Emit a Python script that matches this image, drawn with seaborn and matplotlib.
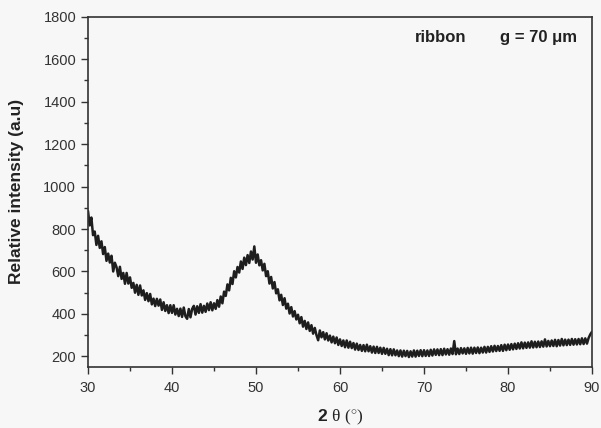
import numpy as np
import pandas as pd
import matplotlib
matplotlib.use("Agg")
import matplotlib.pyplot as plt
import seaborn as sns

# ---- data, 2-theta grid of 0.2 deg ----
two_theta = np.round(np.arange(30.0, 90.0001, 0.2), 1)

intensity = [
    885, 817, 854, 771, 788,  725, 768, 711, 742, 682,   # 30-31.8
    715, 650, 684, 642, 674,  600, 641, 620, 578, 622,   # 32-33.8
    565, 593, 542, 593, 543,  572, 523, 546, 500, 537,   # 34-35.8
    490, 534, 487, 511, 466,  498, 460, 494, 445, 472,   # 36-37.8
    437, 471, 439, 468, 419,  455, 414, 441, 404, 441,   # 38-39.8
    405, 441, 397, 424, 390,  425, 386, 430, 389, 377,   # 40-41.8
    423, 384, 424, 438, 397,  436, 405, 446, 406, 438,   # 42-43.8
    410, 449, 418, 455, 417,  450, 424, 465, 434, 482,   # 44-45.8
    450, 505, 485, 539, 511,  570, 541, 601, 572, 621,   # 46-47.8
    595, 647, 612, 665, 630,  677, 640, 694, 656, 718,   # 48-49.8
    641, 680, 629, 653, 605,  636, 578, 601, 543, 574,   # 50-51.8
    520, 550, 497, 516, 464,  490, 442, 474, 425, 448,   # 52-53.8
    402, 432, 388, 413, 374,  396, 356, 385, 340, 367,   # 54-55.8
    329, 360, 320, 347, 307,  334, 300, 276, 322, 290,   # 56-57.8
    314, 280, 309, 275, 298,  266, 293, 262, 289, 254,   # 58-59.8
    280, 249, 275, 243, 275,  241, 269, 239, 263, 232,   # 60-61.8
    260, 230, 254, 226, 253,  224, 255, 224, 248, 218,   # 62-63.8
    246, 216, 245, 216, 241,  212, 240, 212, 236, 206,   # 64-65.8
    234, 205, 233, 205, 228,  201, 228, 199, 227, 201,   # 66-67.8
    226, 197, 224, 199, 228,  199, 227, 202, 229, 201,   # 68-69.8
    229, 202, 228, 202, 231,  204, 233, 207, 233, 206,   # 70-71.8
    234, 206, 236, 209, 234,  208, 237, 211, 272, 210,   # 72-73.8
    237, 211, 239, 214, 238,  212, 240, 214, 241, 213,   # 74-75.8
    241, 216, 242, 215, 241,  218, 245, 218, 245, 221,   # 76-77.8
    248, 223, 250, 225, 249,  226, 253, 226, 255, 229,   # 78-79.8
    256, 231, 258, 233, 260,  235, 262, 237, 266, 238,   # 80-81.8
    265, 240, 266, 241, 271,  242, 269, 243, 270, 244,   # 82-83.8
    271, 246, 280, 247, 273,  248, 275, 249, 278, 248,   # 84-85.8
    277, 251, 282, 252, 279,  253, 279, 254, 282, 255,   # 86-87.8
    281, 256, 282, 257, 285,  258, 285, 260, 287, 304,   # 88-89.8
    316,                                                 # 90
]

x_ticks = [30, 40, 50, 60, 70, 80, 90]
y_ticks = [200, 400, 600, 800, 1000, 1200, 1400, 1600, 1800]

df = pd.DataFrame({"two_theta": two_theta, "intensity": intensity})

# ---- style ----
sns.set_theme(style="ticks")
bg = "#f7f7f7"
plt.rcParams["font.family"] = ["Liberation Sans", "DejaVu Sans"]
plt.rcParams["mathtext.fontset"] = "custom"
plt.rcParams["mathtext.rm"] = "Liberation Serif"
plt.rcParams["mathtext.bf"] = "Liberation Sans:bold"

fig = plt.figure(figsize=(6.01, 4.28), dpi=100, facecolor=bg)
ax = fig.add_axes([88 / 601, 1 - 367 / 428, 504 / 601, (367 - 16.7) / 428])
ax.set_facecolor(bg)

sns.lineplot(data=df, x="two_theta", y="intensity", ax=ax, color="#1e1e1e",
             linewidth=1.8, estimator=None, sort=False)

ax.set_xlim(30, 90)
ax.set_ylim(150, 1800)
ax.set_xticks(x_ticks)
ax.set_yticks(y_ticks)
ax.set_xticks(np.arange(35, 90, 10), minor=True)
ax.set_yticks(np.arange(300, 1800, 200), minor=True)

for s in ax.spines.values():
    s.set_color("#333333")
    s.set_linewidth(1.2)

ax.tick_params(axis="both", which="major", direction="out", length=5, width=1,
               color="#333333", labelsize=10.5, labelcolor="#333333")
ax.tick_params(axis="both", which="minor", direction="out", length=3, width=1,
               color="#333333")
ax.tick_params(axis="x", which="major", pad=5)
ax.tick_params(axis="y", which="major", pad=3.5)

ax.set_ylabel("Relative intensity (a.u)", fontsize=12.5, fontweight="bold",
              color="#222222")
ax.yaxis.set_label_coords((17 - 88) / 504, 0.5)
ax.yaxis.label.set_va("center")

ax.set_xlabel(r"$\mathbf{2}\;\mathrm{\theta}\;\mathrm{(}^{\circ}\mathrm{)}$",
              fontsize=12.5, color="#222222")
ax.xaxis.set_label_coords(0.5, (367 - 417) / 350)
ax.xaxis.label.set_va("center")

ax.text(0.649, 0.94, "ribbon", transform=ax.transAxes, fontsize=12,
        fontweight="bold", color="#222222", va="center", ha="left")
ax.text(0.817, 0.94, "g = 70 μm", transform=ax.transAxes, fontsize=12,
        fontweight="bold", color="#222222", va="center", ha="left")

fig.savefig("out.png", dpi=100, facecolor=bg)
